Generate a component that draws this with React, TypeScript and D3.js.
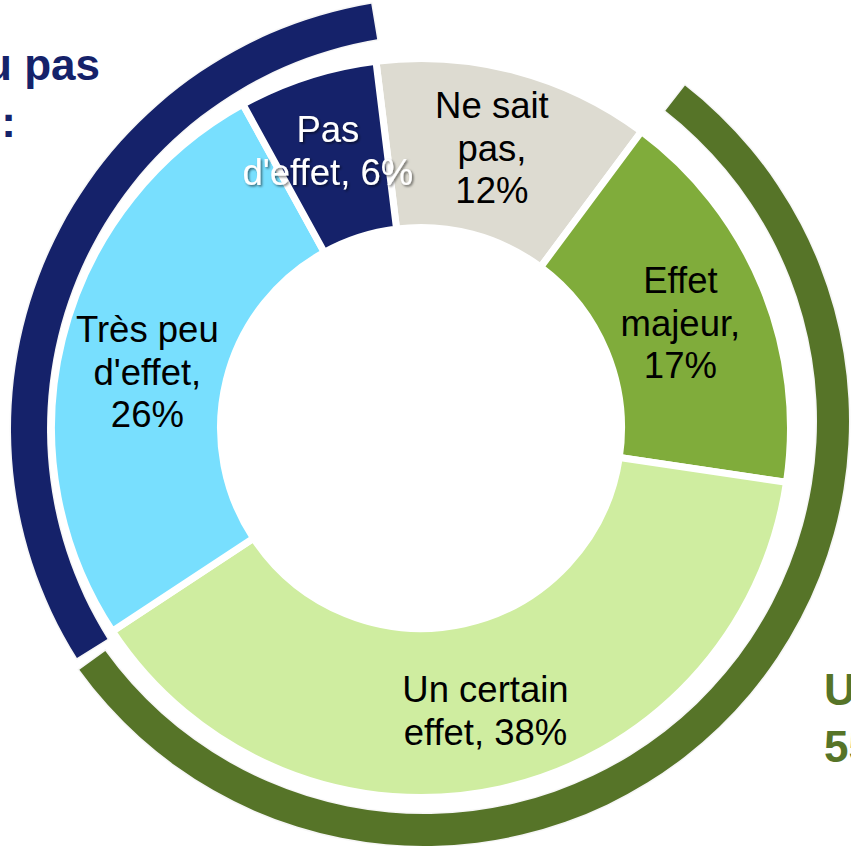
import React from "react";
import * as d3 from "d3";

// ---- data ----
const categories = ["Ne sait pas", "Effet majeur", "Un certain effet", "Très peu d'effet", "Pas d'effet"];
const values = [12, 17, 38, 26, 6];
const labelLines = [
  ["Ne sait", "pas,", "12%"],
  ["Effet", "majeur,", "17%"],
  ["Un certain", "effet, 38%"],
  ["Très peu", "d'effet,", "26%"],
  ["Pas", "d'effet, 6%"],
];
const groupMembers = [
  ["Effet majeur", "Un certain effet"],
  ["Très peu d'effet", "Pas d'effet"],
];
const groupLabelLines = [
  ["Un effet :", "55%"],
  ["Peu ou pas", "d'effet :"],
];

// ---- styles / layout ----
const W = 851;
const H = 846;
const sliceColors = ["#DDDBD1", "#80AC3B", "#CFEDA0", "#78DFFE", "#15226A"];
const labelColors = ["#000000", "#000000", "#000000", "#000000", "#FFFFFF"];
const labelNudge = [
  [-2, -5],
  [-4, 3.5],
  [3, 4],
  [3, 12],
  [-5.5, -6.5],
];
const groupColors = ["#567428", "#15226A"];
const ringGeom = [
  { cx: 424, cy: 421, r0: 393, r1: 425 },
  { cx: 442, cy: 429, r0: 395, r1: 431 },
];
const groupText = [
  { y: 705, anchor: "start", xs: [824, 824] },
  { y: 80, anchor: "end", xs: [100, 16] },
];

const deg = Math.PI / 180;
const CX = 421;
const CY = 428;
const R_OUT = 366;
const R_IN = 204;
const GAP = 7;
const FONT = "'Liberation Sans', Arial, Helvetica, sans-serif";
const LABEL_SIZE = 36.5;
const LINE_H = 42.5;

export default function App() {
  const pie = d3
    .pie<number>()
    .sort(null)
    .value((d) => d)
    .startAngle(-7 * deg)
    .endAngle(353 * deg);
  const arcs = pie(values);

  const sliceArc = d3
    .arc<d3.PieArcDatum<number>>()
    .innerRadius(R_IN - GAP / 2)
    .outerRadius(R_OUT + GAP / 2);
  const centroidArc = d3
    .arc<d3.PieArcDatum<number>>()
    .innerRadius(R_IN)
    .outerRadius(R_OUT);

  const rings = groupMembers.map((members, gi) => {
    const idx = members.map((m) => categories.indexOf(m));
    const start = d3.min(idx, (i) => arcs[i].startAngle)! + 1.25 * deg;
    const end = d3.max(idx, (i) => arcs[i].endAngle)! - 2.45 * deg;
    const g = ringGeom[gi];
    const path = d3.arc()({
      innerRadius: g.r0,
      outerRadius: g.r1,
      startAngle: start,
      endAngle: end,
    } as any) as string;
    return { path, g, color: groupColors[gi] };
  });

  return (
    <svg
      width={W}
      height={H}
      viewBox={`0 0 ${W} ${H}`}
      style={{ position: "absolute", left: 0, top: 0, display: "block", background: "#fff" }}
    >
      <defs>
        <filter id="txtShadow" x="-20%" y="-20%" width="140%" height="140%">
          <feDropShadow dx="1.5" dy="1.5" stdDeviation="1" floodColor="#000" floodOpacity="0.55" />
        </filter>
      </defs>
      <rect x={0} y={0} width={W} height={H} fill="#fff" />

      {rings.map((r, i) => (
        <path
          key={"ring" + i}
          d={r.path}
          transform={`translate(${r.g.cx},${r.g.cy})`}
          fill={r.color}
          stroke="rgba(0,0,0,0.035)"
          strokeWidth={3}
          paintOrder="stroke"
        />
      ))}

      <g transform={`translate(${CX},${CY})`}>
        {arcs.map((a, i) => (
          <path
            key={"s" + i}
            d={sliceArc(a) as string}
            fill={sliceColors[i]}
            stroke="#fff"
            strokeWidth={GAP}
            strokeLinejoin="miter"
          />
        ))}
        {arcs.map((a, i) => {
          const [x, y] = centroidArc.centroid(a);
          const lines = labelLines[i];
          const n = lines.length;
          const bx = x + labelNudge[i][0];
          const by = y + labelNudge[i][1];
          const capH = LABEL_SIZE * 0.716;
          return (
            <text
              key={"l" + i}
              textAnchor="middle"
              fontFamily={FONT}
              fontSize={LABEL_SIZE}
              fill={labelColors[i]}
              filter={labelColors[i] === "#FFFFFF" ? "url(#txtShadow)" : undefined}
            >
              {lines.map((ln, j) => (
                <tspan key={j} x={bx} y={by + (j - (n - 1) / 2) * LINE_H + capH / 2}>
                  {ln}
                </tspan>
              ))}
            </text>
          );
        })}
      </g>

      {groupLabelLines.map((lines, gi) => (
        <text
          key={"g" + gi}
          fontFamily={FONT}
          fontWeight="bold"
          fontSize={44}
          fill={groupColors[gi]}
          textAnchor={groupText[gi].anchor as any}
        >
          {lines.map((ln, j) => (
            <tspan key={j} x={groupText[gi].xs[j]} y={groupText[gi].y + j * 56.5}>
              {ln}
            </tspan>
          ))}
        </text>
      ))}
    </svg>
  );
}
